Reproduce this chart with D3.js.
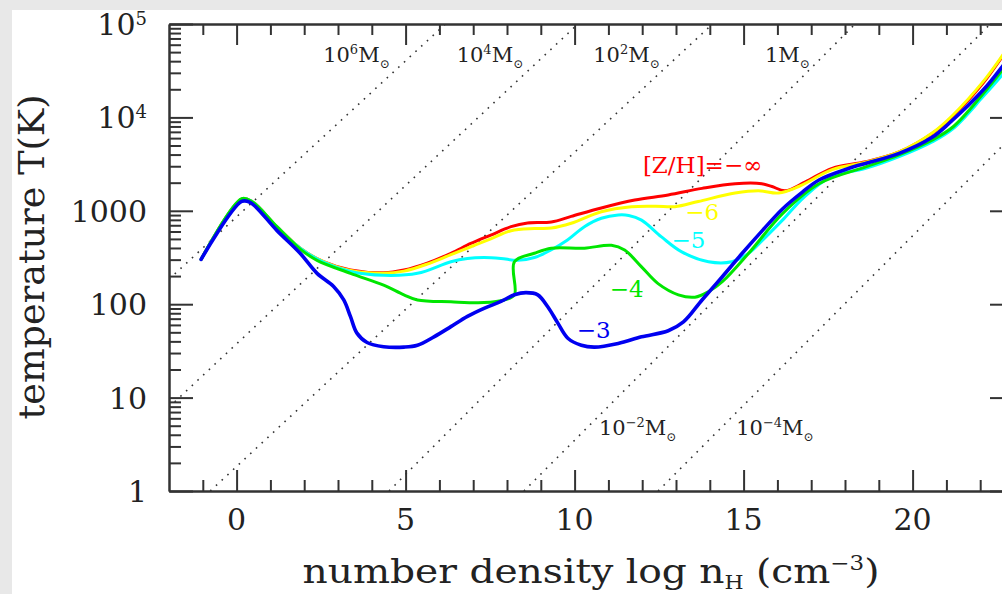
<!DOCTYPE html>
<html><head><meta charset="utf-8">
<script src="https://cdn.jsdelivr.net/npm/d3@7"></script>
<style>body{margin:0;background:#fff} svg{display:block}</style>
</head><body>
<svg id="c" width="1002" height="594"></svg>
<script>
// ---------- data (log n_H, T[K]) ----------
const xMajorTicks = [0, 5, 10, 15, 20];
const xMinorTicks = [-1,1,2,3,4,6,7,8,9,11,12,13,14,16,17,18,19,21,22];
const yMajorTicks = [1, 10, 100, 1000, 1e4, 1e5];
const yTickBase = ["1", "10", "100", "1000", "10", "10"];
const yTickSup  = ["", "", "", "", "4", "5"];

const zNone = [[-1.05,302],[0.15,1334],[0.45,1259],[1.19,676],[1.88,398],[2.57,285],[3.37,232],[4.35,217],[4.95,232],[5.64,275],[6.34,351],[6.93,447],[7.52,550],[8.12,676],[8.61,741],[9.31,759],[9.9,871],[10.79,1072],[11.78,1303],[12.77,1479],[13.77,1738],[14.75,1950],[15.54,1950],[15.84,1820],[16.23,1641],[16.83,2042],[17.62,2851],[18.61,3350],[19.6,4266],[20.59,6761],[21.18,10233],[22.08,23174],[22.73,48978],[23.0,67608]];
const zM6 = [[-1.05,302],[0.15,1334],[0.45,1259],[1.19,676],[1.88,398],[2.57,285],[3.37,229],[4.35,214],[4.95,226],[5.64,269],[6.34,339],[6.93,412],[7.52,501],[8.12,612],[8.81,646],[9.31,653],[9.9,735],[10.79,977],[11.68,1107],[12.4,1120],[12.97,1107],[13.66,1259],[14.75,1549],[15.44,1641],[16.04,1549],[16.63,1820],[17.62,2754],[18.61,3311],[19.6,4266],[20.59,6839],[21.18,10471],[22.08,23988],[22.73,50119],[23.0,69183]];
const zM5 = [[-1.05,302],[0.15,1334],[0.45,1259],[1.19,676],[1.88,398],[2.57,282],[3.37,224],[4.35,204],[5.35,214],[6.34,285],[6.83,309],[7.32,316],[7.82,309],[8.32,295],[8.81,316],[9.3,380],[9.8,490],[10.29,676],[10.79,832],[11.29,902],[11.6,891],[11.98,794],[12.57,525],[13.17,363],[13.96,285],[14.65,285],[15.15,351],[15.6,501],[16.15,794],[16.8,1413],[17.62,2344],[18.61,2851],[19.6,3802],[20.59,5495],[21.2,7586],[22.08,16596],[22.73,30903],[23.0,42658]];
const zM4 = [[-1.05,302],[0.15,1349],[0.45,1259],[1.19,676],[1.88,389],[2.38,295],[3.37,214],[4.35,160],[4.95,126],[5.35,111],[6.34,106],[7.32,104],[7.92,111],[8.22,126],[8.22,285],[8.81,351],[9.31,398],[10.29,398],[11.09,427],[11.48,380],[11.98,251],[12.47,166],[13.07,126],[13.56,119],[13.96,136],[14.37,174],[15.15,351],[16.15,933],[17.23,1950],[18.61,2951],[19.6,3981],[20.59,5754],[21.2,7943],[22.08,17783],[22.73,34674],[23.0,46774]];
const zM3 = [[-1.05,302],[0.15,1259],[0.4,1230],[1.19,617],[1.88,351],[2.38,214],[2.87,155],[3.17,111],[3.37,73.5],[3.56,49],[3.86,38.9],[4.35,35.1],[4.95,34.7],[5.35,36.3],[5.84,44.7],[6.34,57.5],[6.83,74.1],[7.32,90.4],[7.82,107],[8.22,126],[8.56,133],[8.91,126],[9.21,93.3],[9.5,63.1],[9.8,43.2],[10.2,36.3],[10.59,34.7],[11.29,38],[11.98,44.7],[12.77,52],[13.22,64.6],[13.77,111],[14.37,197],[14.96,351],[15.56,617],[16.15,1047],[16.74,1585],[17.23,2138],[18.12,2851],[19.6,4121],[20.59,6166],[21.09,8710],[22.08,19498],[22.73,38019],[23.0,51286]];

const seriesData   = [zNone, zM6, zM5, zM4, zM3];
const seriesLabels = ["[Z/H]=−∞", "−6", "−5", "−4", "−3"];
const seriesLabelPos = [[12.02, 2541], [13.27, 796], [12.87, 400], [11.04, 120], [10.06, 43]];

// constant Jeans-mass lines: exponent of M (in M_sun), start and end points
const jeansExp   = ["6", "4", "2", "", "−2", "−4"];
const jeansStart = [[-2, 185], [-2, 7.9], [-0.78, 1], [4.51, 1], [8.5, 1], [12.47, 1]];
const jeansEnd   = [[6.18, 1e5], [10.1, 1e5], [14.08, 1e5], [18.3, 1e5], [22.3, 1e5], [23, 6607]];
const jeansLabelPos = [[2.56, 39500], [6.51, 39500], [10.55, 39500], [15.63, 39500], [10.72, 4], [14.78, 4]];

// ---------- styles ----------
const colors = ["#ff0000", "#ffff00", "#00ffff", "#00e600", "#0000f0"];
const widths = [3, 3, 3, 3, 3.6];
const FONT = "'DejaVu Serif', 'Liberation Serif', serif";
const INK = "#222";

const svg = d3.select("#c");
svg.append("rect").attr("width", 1002).attr("height", 594).attr("fill", "#e8e8e8");
svg.append("rect").attr("x", 12).attr("y", 10).attr("width", 990).attr("height", 584).attr("fill", "#fff");

const L = 169, R = 1014, T = 24, B = 491;
const x = d3.scaleLinear().domain([-2, 23]).range([L, R]);
const y = d3.scaleLog().domain([1, 1e5]).range([B, T]);

svg.append("clipPath").attr("id", "pc").append("rect")
  .attr("x", L).attr("y", T).attr("width", R - L).attr("height", B - T);

// Jeans-mass dotted lines
const plot = svg.append("g").attr("clip-path", "url(#pc)");
const lineGen = d3.line().x(d => x(d[0])).y(d => y(d[1]));
jeansStart.forEach((s, i) => {
  plot.append("path").attr("d", lineGen([s, jeansEnd[i]]))
    .attr("fill", "none").attr("stroke", "#333").attr("stroke-width", 1.6)
    .attr("stroke-dasharray", "1.6,6.2");
});

// curves
const curve = d3.line().x(d => x(d[0])).y(d => y(d[1])).curve(d3.curveCatmullRom.alpha(0.5));
seriesData.forEach((s, i) => {
  plot.append("path").attr("d", curve(s)).attr("fill", "none")
    .attr("stroke", colors[i]).attr("stroke-width", widths[i])
    .attr("stroke-linejoin", "round").attr("stroke-linecap", "round");
});

// axes (ticks inward)
const yMinor = [];
for (let d = 1; d < 1e5; d *= 10) for (let k = 2; k <= 9; k++) yMinor.push(d * k);
function styleAxis(g) {
  g.selectAll("path.domain").attr("stroke", "#333").attr("stroke-width", 2);
  g.selectAll(".tick line").attr("stroke", "#333").attr("stroke-width", 2);
  g.selectAll("text").remove();
}
svg.append("g").attr("transform", `translate(0,${B})`).call(d3.axisBottom(x).tickValues(xMinorTicks).tickSize(-11).tickSizeOuter(0)).call(styleAxis);
svg.append("g").attr("transform", `translate(0,${B})`).call(d3.axisBottom(x).tickValues(xMajorTicks).tickSize(-21).tickSizeOuter(0)).call(styleAxis);
svg.append("g").attr("transform", `translate(0,${T})`).call(d3.axisTop(x).tickValues(xMinorTicks).tickSize(-11).tickSizeOuter(0)).call(styleAxis);
svg.append("g").attr("transform", `translate(0,${T})`).call(d3.axisTop(x).tickValues(xMajorTicks).tickSize(-21).tickSizeOuter(0)).call(styleAxis);
svg.append("g").attr("transform", `translate(${L},0)`).call(d3.axisLeft(y).tickValues(yMinor).tickSize(-12).tickSizeOuter(0)).call(styleAxis);
svg.append("g").attr("transform", `translate(${L},0)`).call(d3.axisLeft(y).tickValues(yMajorTicks).tickSize(-24).tickSizeOuter(0)).call(styleAxis);
svg.append("g").attr("transform", `translate(${R},0)`).call(d3.axisRight(y).tickValues(yMinor).tickSize(-12).tickSizeOuter(0)).call(styleAxis);
svg.append("g").attr("transform", `translate(${R},0)`).call(d3.axisRight(y).tickValues(yMajorTicks).tickSize(-24).tickSizeOuter(0)).call(styleAxis);

// tick labels
yMajorTicks.forEach((v, i) => {
  const t = svg.append("text").attr("x", 147).attr("y", y(v) + 11)
    .attr("text-anchor", "end").attr("font-family", FONT).attr("font-size", 30).attr("fill", INK);
  t.append("tspan").text(yTickBase[i]);
  if (yTickSup[i]) t.append("tspan").attr("font-size", 18).attr("dy", -10).text(yTickSup[i]);
});
xMajorTicks.forEach(v => {
  svg.append("text").attr("x", x(v)).attr("y", 530).attr("text-anchor", "middle")
    .attr("font-family", FONT).attr("font-size", 30).attr("fill", INK).text(v);
});

// axis titles
svg.append("text").attr("transform", "translate(44,257) rotate(-90)")
  .attr("text-anchor", "middle").attr("font-family", FONT).attr("font-size", 35).attr("fill", INK)
  .attr("textLength", 325).attr("lengthAdjust", "spacingAndGlyphs").text("temperature T(K)");
const xt = svg.append("text").attr("x", 591).attr("y", 583).attr("text-anchor", "middle")
  .attr("font-family", FONT).attr("font-size", 34).attr("fill", INK)
  .attr("textLength", 577).attr("lengthAdjust", "spacingAndGlyphs");
xt.append("tspan").text("number density log n");
xt.append("tspan").attr("font-size", 19).attr("dy", 6).text("H");
xt.append("tspan").attr("dy", -6).text(" (cm");
xt.append("tspan").attr("font-size", 20).attr("dy", -13).text("−3");
xt.append("tspan").attr("dy", 13).text(")");

// Jeans-mass labels
jeansLabelPos.forEach((p, i) => {
  const t = svg.append("text").attr("x", x(p[0])).attr("y", y(p[1]))
    .attr("font-family", FONT).attr("font-size", 21).attr("fill", INK);
  if (jeansExp[i]) {
    t.append("tspan").text("10");
    t.append("tspan").attr("font-size", 13).attr("dy", -8).text(jeansExp[i]);
    t.append("tspan").attr("dy", 8).text("M");
  } else {
    t.append("tspan").text("1M");
  }
  t.append("tspan").attr("font-size", 12).attr("dy", 6).text("⊙");
});

// series labels
seriesLabels.forEach((s, i) => {
  svg.append("text").attr("x", x(seriesLabelPos[i][0])).attr("y", y(seriesLabelPos[i][1]))
    .attr("font-family", FONT).attr("font-size", 23).attr("fill", colors[i]).text(s);
});
</script>
</body></html>
